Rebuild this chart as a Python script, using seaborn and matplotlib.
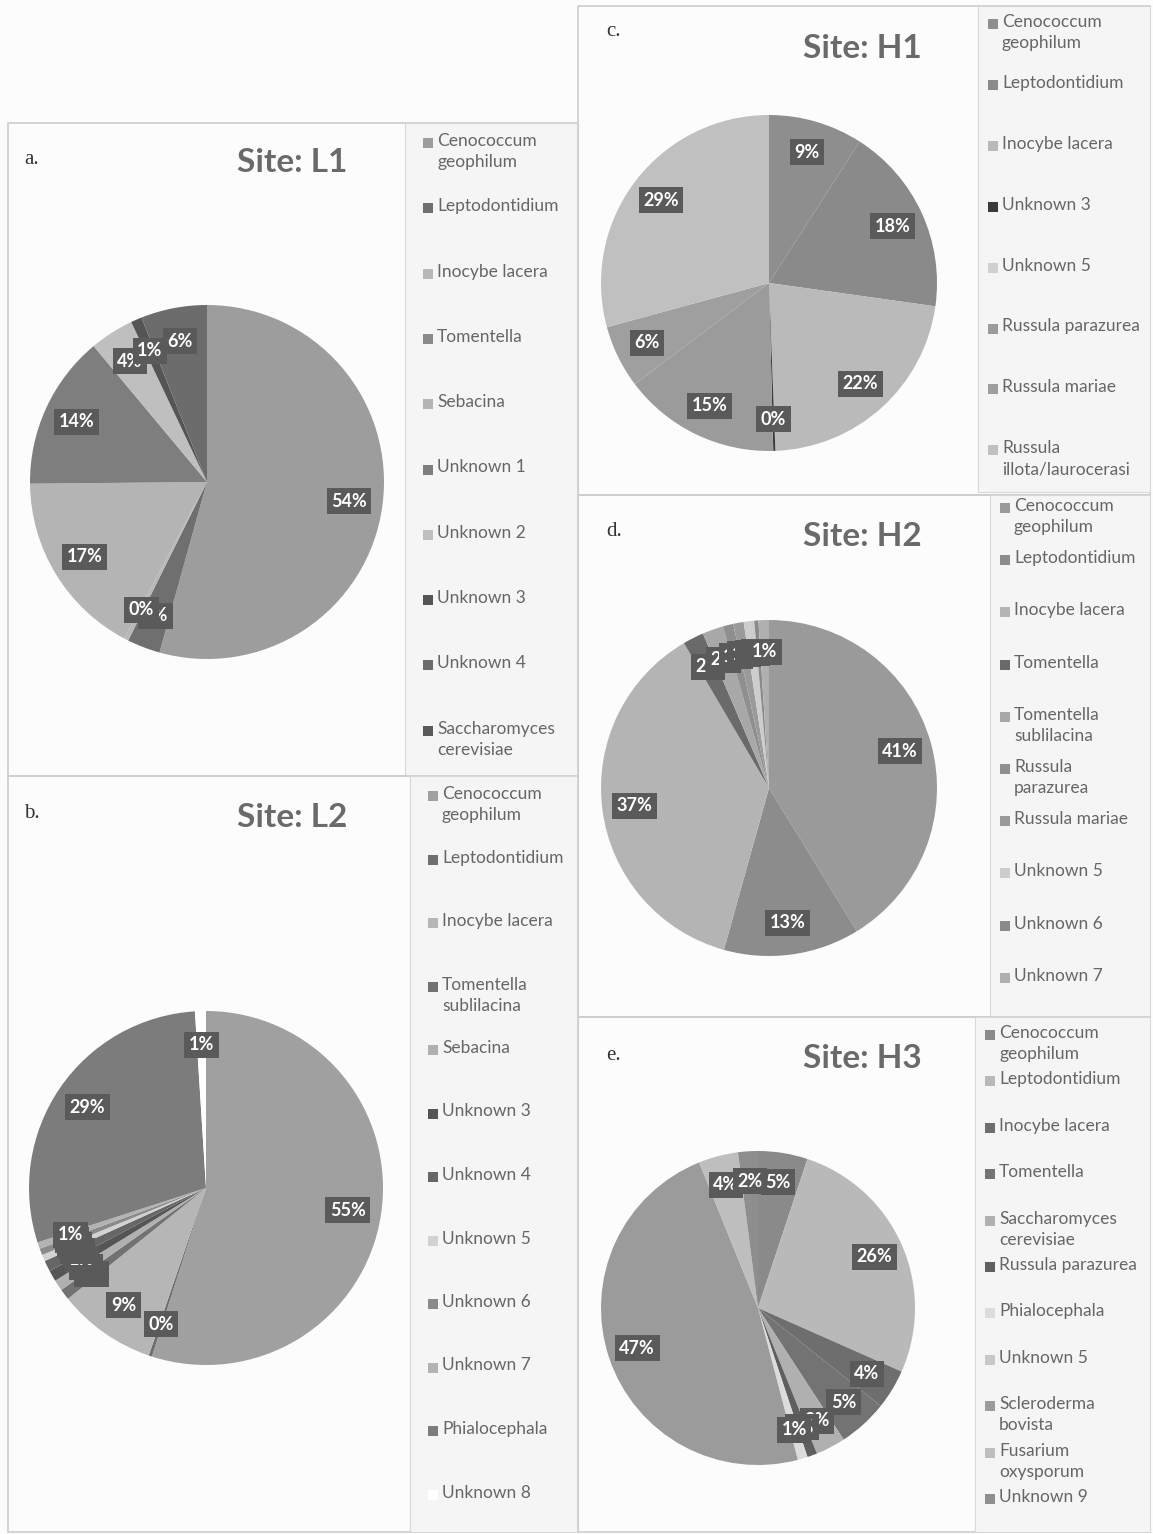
import numpy as np
import matplotlib
matplotlib.use("Agg")
import matplotlib.pyplot as plt
from matplotlib.patches import Rectangle
import seaborn as sns

sns.set_theme(style="white")
plt.rcParams["font.family"] = ["Lato", "DejaVu Sans"]

W, H = 1153, 1534

# ---- data (percent per taxon, in legend order) ----
l1_taxa = ["Cenococcum\ngeophilum", "Leptodontidium", "Inocybe lacera", "Tomentella",
           "Sebacina", "Unknown 1", "Unknown 2", "Unknown 3", "Unknown 4",
           "Saccharomyces\ncerevisiae"]
l1_pct = [54, 3, 0.4, 0, 17, 14, 4, 1, 6, 0]

l2_taxa = ["Cenococcum\ngeophilum", "Leptodontidium", "Inocybe lacera", "Tomentella\nsublilacina",
           "Sebacina", "Unknown 3", "Unknown 4", "Unknown 5", "Unknown 6", "Unknown 7",
           "Phialocephala", "Unknown 8"]
l2_pct = [55, 0.3, 9, 1, 1, 1, 1, 0.6, 0.6, 0.6, 29, 1]

h1_taxa = ["Cenococcum\ngeophilum", "Leptodontidium", "Inocybe lacera", "Unknown 3",
           "Unknown 5", "Russula parazurea", "Russula mariae", "Russula\nillota/laurocerasi"]
h1_pct = [9, 18, 22, 0.2, 0, 15, 6, 29]

h2_taxa = ["Cenococcum\ngeophilum", "Leptodontidium", "Inocybe lacera", "Tomentella",
           "Tomentella\nsublilacina", "Russula\nparazurea", "Russula mariae", "Unknown 5",
           "Unknown 6", "Unknown 7"]
h2_pct = [41, 13, 37, 2, 2, 1, 1, 1, 0.4, 1]

h3_taxa = ["Cenococcum\ngeophilum", "Leptodontidium", "Inocybe lacera", "Tomentella",
           "Saccharomyces\ncerevisiae", "Russula parazurea", "Phialocephala", "Unknown 5",
           "Scleroderma\nbovista", "Fusarium\noxysporum", "Unknown 9"]
h3_pct = [5, 26, 4, 5, 3, 1, 1, 0, 47, 4, 2]

# ---- grey shades per slice (style) ----
l1_cols = ["#9d9d9d", "#6f6f6f", "#b8b8b8", "#8a8a8a", "#b4b4b4", "#7e7e7e",
           "#bfbfbf", "#555555", "#6c6c6c", "#5a5a5a"]
l2_cols = ["#a0a0a0", "#6f6f6f", "#b6b6b6", "#727272", "#b0b0b0", "#555555",
           "#666666", "#d2d2d2", "#8a8a8a", "#b3b3b3", "#7c7c7c", "#ffffff"]
h1_cols = ["#8e8e8e", "#8a8a8a", "#bababa", "#3a3a3a", "#d0d0d0", "#9b9b9b",
           "#9f9f9f", "#c0c0c0"]
h2_cols = ["#9a9a9a", "#8c8c8c", "#b4b4b4", "#6a6a6a", "#a8a8a8", "#8f8f8f",
           "#9a9a9a", "#cdcdcd", "#8a8a8a", "#b0b0b0"]
h3_cols = ["#8a8a8a", "#b9b9b9", "#6e6e6e", "#737373", "#b0b0b0", "#5f5f5f",
           "#dcdcdc", "#c8c8c8", "#9b9b9b", "#bebebe", "#8e8e8e"]

panels = [
    dict(tag="a.", title="Site: L1", taxa=l1_taxa, pct=l1_pct, cols=l1_cols,
         box=(8, 123, 578, 776), leg=(405, 123, 578, 776), tag_xy=(24, 160), title_xy=(292, 163),
         pie=(207, 482, 177), leg_x=423, leg_y0=143, leg_dy=65.3),
    dict(tag="b.", title="Site: L2", taxa=l2_taxa, pct=l2_pct, cols=l2_cols,
         box=(8, 776, 578, 1532), leg=(410, 776, 578, 1532), tag_xy=(24, 813), title_xy=(292, 817),
         pie=(206, 1188, 177), leg_x=428, leg_y0=796, leg_dy=63.5),
    dict(tag="c.", title="Site: H1", taxa=h1_taxa, pct=h1_pct, cols=h1_cols,
         box=(578, 6, 1150, 495), leg=(978, 6, 1150, 492), tag_xy=(606, 32), title_xy=(862, 48),
         pie=(769, 283, 168), leg_x=988, leg_y0=24, leg_dy=60.9),
    dict(tag="d.", title="Site: H2", taxa=h2_taxa, pct=h2_pct, cols=h2_cols,
         box=(578, 495, 1150, 1017), leg=(990, 495, 1150, 1017), tag_xy=(606, 532), title_xy=(862, 536),
         pie=(769, 788, 168), leg_x=1000, leg_y0=508, leg_dy=52.2),
    dict(tag="e.", title="Site: H3", taxa=h3_taxa, pct=h3_pct, cols=h3_cols,
         box=(578, 1017, 1150, 1532), leg=(975, 1017, 1150, 1532), tag_xy=(606, 1055), title_xy=(862, 1058),
         pie=(758, 1308, 157), leg_x=985, leg_y0=1035, leg_dy=46.4),
]


def fx(x):
    return x / W


def fy(y):
    return 1 - y / H


fig = plt.figure(figsize=(W / 100, H / 100), dpi=100)
fig.patch.set_facecolor("#fcfcfc")

for p in panels:
    x0, y0, x1, y1 = p["box"]
    fig.add_artist(Rectangle((fx(x0), fy(y1)), (x1 - x0) / W, (y1 - y0) / H,
                             transform=fig.transFigure, fill=False, ec="#cdcdcd", lw=1.2))
    lx0, ly0, lx1, ly1 = p["leg"]
    fig.add_artist(Rectangle((fx(lx0), fy(ly1)), (lx1 - lx0) / W, (ly1 - ly0) / H,
                             transform=fig.transFigure, fc="#f5f5f5", ec="#d8d8d8", lw=0.8))

    fig.text(fx(p["tag_xy"][0]), fy(p["tag_xy"][1]), p["tag"], family="Liberation Serif",
             fontsize=15, color="#333333", ha="left", va="center")
    fig.text(fx(p["title_xy"][0]), fy(p["title_xy"][1]), p["title"], fontsize=24,
             fontweight="bold", color="#6a6a6a", ha="center", va="center")

    cx, cy, r = p["pie"]
    ax = fig.add_axes([fx(cx - r), fy(cy + r), 2 * r / W, 2 * r / H])
    wedges, _ = ax.pie(p["pct"], colors=p["cols"], startangle=90, counterclock=False,
                       wedgeprops=dict(linewidth=0))
    ax.set_xlim(-1, 1)
    ax.set_ylim(-1, 1)
    ax.set_axis_off()
    for w, v in zip(wedges, p["pct"]):
        if v <= 0:
            continue
        ang = np.deg2rad((w.theta1 + w.theta2) / 2)
        ax.text(0.81 * np.cos(ang), 0.81 * np.sin(ang), f"{v:.0f}%", ha="center", va="center",
                fontsize=13, fontweight="bold", color="white",
                bbox=dict(boxstyle="square,pad=0.25", fc="#5a5a5a", ec="none"))

    # legend, one slot per taxon
    for i, (name, col) in enumerate(zip(p["taxa"], p["cols"])):
        yc = p["leg_y0"] + i * p["leg_dy"]
        fig.add_artist(Rectangle((fx(p["leg_x"]), fy(yc + 5)), 10 / W, 10 / H,
                                 transform=fig.transFigure, fc=col, ec="none"))
        fig.text(fx(p["leg_x"] + 14), fy(yc - 10), name, fontsize=12.5, color="#666666",
                 ha="left", va="top", linespacing=1.4)

fig.savefig("out.png", dpi=100, facecolor=fig.get_facecolor())
